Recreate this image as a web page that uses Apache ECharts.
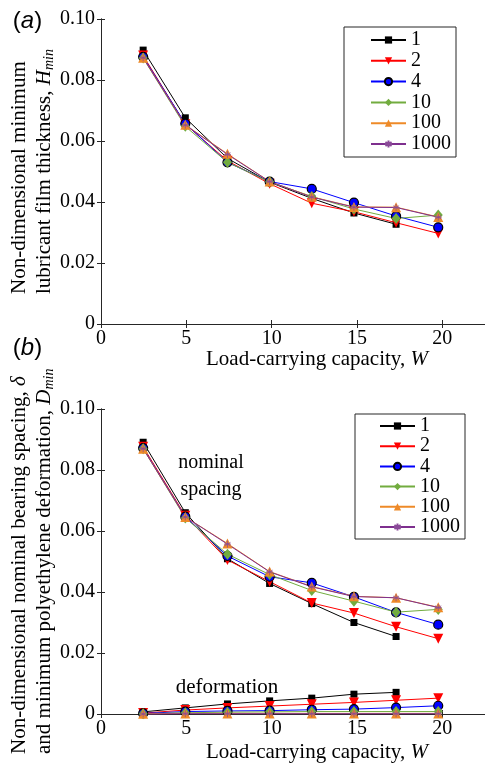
<!DOCTYPE html>
<html>
<head>
<meta charset="utf-8">
<script src="https://cdn.jsdelivr.net/npm/echarts@6/dist/echarts.min.js"></script>
<style>html,body{margin:0;padding:0;background:#fff;}#c{width:485px;height:765px;}</style>
</head>
<body>
<div id="c"></div>
<script>
// ---- data ----
const W = [2.47, 4.94, 7.41, 9.88, 12.35, 14.82, 17.29, 19.76];
const K_NAMES = ['1', '2', '4', '10', '100', '1000'];
const X_TICKS = [0, 5, 10, 15, 20];
const Y_TICKS = ['0', '0.02', '0.04', '0.06', '0.08', '0.10'];

// (a) minimum film thickness H_min
const Hmin_K1    = [0.0898, 0.0676, 0.0543, 0.0465, 0.0412, 0.0364, 0.0327];
const Hmin_K2    = [0.0880, 0.0655, 0.0535, 0.0460, 0.0396, 0.0368, 0.0332, 0.0297];
const Hmin_K4    = [0.0876, 0.0657, 0.0530, 0.0467, 0.0443, 0.0398, 0.0354, 0.0317];
const Hmin_K10   = [0.0872, 0.0648, 0.0530, 0.0466, 0.0418, 0.0377, 0.0346, 0.0357];
const Hmin_K100  = [0.0873, 0.0653, 0.0558, 0.0467, 0.0417, 0.0384, 0.0383, 0.0351];
const Hmin_K1000 = [0.0873, 0.0652, 0.0556, 0.0467, 0.0416, 0.0383, 0.0382, 0.0350];

// (b) nominal spacing delta
const Sp_K1    = [0.0891, 0.0660, 0.0509, 0.0428, 0.0362, 0.0300, 0.0254];
const Sp_K2    = [0.0876, 0.0650, 0.0505, 0.0434, 0.0364, 0.0331, 0.0286, 0.0247];
const Sp_K4    = [0.0872, 0.0647, 0.0518, 0.0450, 0.0430, 0.0384, 0.0333, 0.0293];
const Sp_K10   = [0.0870, 0.0643, 0.0524, 0.0457, 0.0405, 0.0370, 0.0334, 0.0343];
const Sp_K100  = [0.0870, 0.0646, 0.0559, 0.0467, 0.0418, 0.0386, 0.0381, 0.0350];
const Sp_K1000 = [0.0870, 0.0646, 0.0557, 0.0466, 0.0417, 0.0385, 0.0381, 0.0349];

// (b) minimum deformation D_min
const Def_K1    = [0.0007, 0.0020, 0.0033, 0.0043, 0.0052, 0.0065, 0.0071];
const Def_K2    = [0.0003, 0.0013, 0.0020, 0.0026, 0.0032, 0.0038, 0.0045, 0.0052];
const Def_K4    = [0.0002, 0.0008, 0.0010, 0.0011, 0.0014, 0.0016, 0.0021, 0.0027];
const Def_K10   = [0.0001, 0.0004, 0.0006, 0.0007, 0.0008, 0.0008, 0.0008, 0.0008];
const Def_K100  = [0.0001, 0.0002, 0.0002, 0.0002, 0.0002, 0.0002, 0.0002, 0.0002];
const Def_K1000 = [0.0000, 0.0001, 0.0001, 0.0001, 0.0001, 0.0001, 0.0001, 0.0001];

// ---- styles ----
const SERIF = 'Liberation Serif';
const SANS = 'Liberation Sans';
const AX = '#262626';
const STAR = 'path://M5,0L5,10M0.7,2.5L9.3,7.5M0.7,7.5L9.3,2.5M0,5L10,5';
const STY = {
  '1':    {color: '#000000', symbol: 'rect', size: 7},
  '2':    {color: '#ff0000', symbol: 'triangle', size: 10, rotate: 180},
  '4':    {color: '#0000ff', symbol: 'circle', size: 9, border: '#000000', bw: 1.2},
  '10':   {color: '#72ac3f', symbol: 'diamond', size: [9, 11]},
  '100':  {color: '#ee8a28', symbol: 'triangle', size: 10},
  '1000': {color: '#7e2f8e', symbol: STAR, size: 7, border: '#8a4a98', bw: 0.8}
};

function mk(name, vals, gi) {
  const s = STY[name];
  return {
    type: 'line', name: name, xAxisIndex: gi * 2, yAxisIndex: gi * 2,
    data: vals.map((v, i) => [W[i], v]),
    symbol: s.symbol, symbolSize: s.size, symbolRotate: s.rotate || 0,
    showAllSymbol: true, clip: false, animation: false,
    lineStyle: {color: s.color, width: 1},
    itemStyle: {color: s.color, borderColor: s.border || s.color, borderWidth: s.bw || 0, opacity: 1},
    emphasis: {disabled: true}
  };
}

const topSets = [Hmin_K1, Hmin_K2, Hmin_K4, Hmin_K10, Hmin_K100, Hmin_K1000];
const spSets = [Sp_K1, Sp_K2, Sp_K4, Sp_K10, Sp_K100, Sp_K1000];
const defSets = [Def_K1, Def_K2, Def_K4, Def_K10, Def_K100, Def_K1000];
const series = [];
K_NAMES.forEach((k, i) => series.push(mk(k, topSets[i], 0)));
K_NAMES.forEach((k, i) => series.push(mk(k, defSets[i], 1)));
K_NAMES.forEach((k, i) => series.push(mk(k, spSets[i], 1)));

function xAxes(gi) {
  const base = {type: 'value', gridIndex: gi, min: 0, max: 22.5, interval: 5,
    axisLine: {show: true, lineStyle: {color: AX, width: 1}},
    axisTick: {show: true, inside: true, length: 4, lineStyle: {color: AX}},
    splitLine: {show: false}};
  return [
    Object.assign({}, base, {position: 'bottom',
      axisLabel: {show: true, margin: 5, fontFamily: SERIF, fontSize: 20, color: '#000', showMaxLabel: false,
        formatter: v => (X_TICKS.indexOf(v) >= 0 ? String(v) : '')}}),
    Object.assign({}, base, {position: 'top', axisLabel: {show: false}})
  ];
}
function yAxes(gi) {
  const base = {type: 'value', gridIndex: gi, min: 0, max: 0.1, interval: 0.02,
    axisLine: {show: true, lineStyle: {color: AX, width: 1}},
    axisTick: {show: true, inside: true, length: 4, lineStyle: {color: AX}},
    splitLine: {show: false}};
  return [
    Object.assign({}, base, {position: 'left',
      axisLabel: {show: true, margin: 6, fontFamily: SERIF, fontSize: 20, color: '#000',
        formatter: v => Y_TICKS[Math.round(v / 0.02)]}}),
    Object.assign({}, base, {position: 'right', axisLabel: {show: false}})
  ];
}

function makeLegend(left, top, gap, padding) {
  return {
    show: true, orient: 'vertical', left: left, top: top, data: K_NAMES,
    itemWidth: 35, itemHeight: 9, itemGap: gap, padding: padding,
    backgroundColor: '#fff', borderColor: AX, borderWidth: 1, borderRadius: 0,
    selectedMode: false,
    formatter: '{t|{name}}',
    textStyle: {fontFamily: SERIF, fontSize: 20, color: '#000', lineHeight: 20,
      rich: {t: {fontFamily: SERIF, fontSize: 20, color: '#000', lineHeight: 20}}}
  };
}

function richSized(fs, sub) {
  return {
    i: {fontFamily: SERIF, fontStyle: 'italic', fill: '#000', fontSize: fs},
    s: {fontFamily: SERIF, fontStyle: 'italic', fill: '#000', fontSize: sub, lineHeight: sub, verticalAlign: 'bottom'}
  };
}

function txt(x, y, text, opts) {
  return {type: 'text', x: x, y: y, silent: true,
    style: Object.assign({text: text, fill: '#000', fontFamily: SERIF, fontSize: 20,
      align: 'center', verticalAlign: 'middle'}, opts || {})};
}
const sansRich = {ai: {fontFamily: SANS, fontSize: 24, fontStyle: 'italic', fill: '#000'}};

const option = {
  backgroundColor: '#fff',
  animation: false,
  grid: [
    {left: 101, top: 19, width: 386, height: 305},
    {left: 101, top: 409, width: 386, height: 305}
  ],
  xAxis: xAxes(0).concat(xAxes(1)),
  yAxis: yAxes(0).concat(yAxes(1)),
  legend: [
    makeLegend(344, 27, 0.8, [3, 5, 3, 26]),
    makeLegend(355, 414, 0.2, [2, 5, 2, 24])
  ],
  series: series,
  graphic: [
    txt(27.5, 21, '({ai|a})', {fontFamily: SANS, fontSize: 24, rich: sansRich}),
    txt(27.5, 348, '({ai|b})', {fontFamily: SANS, fontSize: 24, rich: sansRich}),
    txt(358.5, 90, 'K', {fontStyle: 'italic', fontSize: 22}),
    txt(368, 478, 'K', {fontStyle: 'italic', fontSize: 22}),
    txt(317, 359, 'Load-carrying capacity, {i|W}', {fontSize: 21, rich: richSized(21, 13)}),
    txt(317, 752, 'Load-carrying capacity, {i|W}', {fontSize: 21, rich: richSized(21, 13)}),
    txt(211, 463, 'nominal'),
    txt(211, 490, 'spacing'),
    txt(227, 687, 'deformation', {fontSize: 21}),
    Object.assign(txt(31.5, 294, 'Non-dimensional minimum\nlubricant film thickness, {i|H}{s|min}',
      {fontSize: 21, align: 'left', lineHeight: 25, rich: richSized(21, 14)}), {rotation: Math.PI / 2}),
    Object.assign(txt(31.5, 754, 'Non-dimensional nominal bearing spacing, {i|δ}\nand minimum polyethylene deformation, {i|D}{s|min}',
      {fontSize: 21, align: 'left', lineHeight: 25, rich: richSized(21, 14)}), {rotation: Math.PI / 2})
  ]
};

const chart = echarts.init(document.getElementById('c'), null, {renderer: 'canvas'});
chart.setOption(option);
</script>
</body>
</html>
